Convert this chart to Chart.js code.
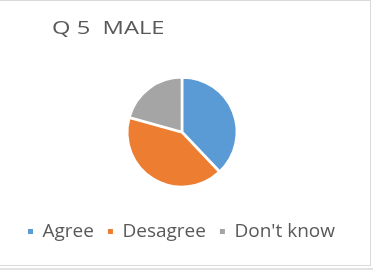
<!DOCTYPE html>
<html>
<head>
<meta charset="utf-8">
<script src="https://cdn.jsdelivr.net/npm/chart.js@4"></script>
<style>
  html, body { margin: 0; padding: 0; background: #fff; }
  #wrap { position: absolute; left: 0; top: 0; width: 373px; height: 270px; overflow: hidden; }
  #frame { position: absolute; left: -2px; top: 0; width: 372px; height: 264px; border-top: 1px solid #D9D9D9; border-right: 1px solid #D9D9D9; border-bottom: 1px solid #D9D9D9; }
  #band { position: absolute; left: 0; top: 268px; width: 373px; height: 2px; background: #E3E3E3; }
  #title { position: absolute; left: 52px; top: 14px; font-family: "Open Sans", sans-serif; font-size: 19px; color: #595959; white-space: pre; transform: scaleX(1.25); transform-origin: 0 0; }
  canvas { position: absolute; left: 0; top: 0; }
</style>
</head>
<body>
<div id="wrap">
  <div id="frame"></div>
  <div id="band"></div>
  <canvas id="c" width="373" height="270"></canvas>
  <div id="title">Q 5  MALE</div>
</div>
<script>
const categories = ["Agree", "Desagree", "Don't know"];
const values = [11, 12, 6];
const colors = ["#5B9BD5", "#ED7D31", "#A5A5A5"];

new Chart(document.getElementById('c'), {
  type: 'pie',
  data: {
    labels: categories,
    datasets: [{
      data: values,
      backgroundColor: colors,
      borderColor: '#ffffff',
      borderWidth: 2,
      offset: 2,
      radius: 54
    }]
  },
  options: {
    responsive: false,
    animation: false,
    layout: { padding: { left: 14, right: 23, top: 56, bottom: 19 } },
    plugins: {
      tooltip: { enabled: false },
      legend: {
        position: 'bottom',
        align: 'start',
        labels: {
          boxWidth: 5,
          boxHeight: 5,
          padding: 14,
          color: '#595959',
          font: { family: "'Open Sans', sans-serif", size: 19 },
          generateLabels: function (chart) {
            const items = Chart.overrides.pie.plugins.legend.labels.generateLabels(chart);
            items.forEach(function (it) { it.lineWidth = 0; it.strokeStyle = it.fillStyle; });
            return items;
          }
        }
      }
    }
  }
});
</script>
</body>
</html>
